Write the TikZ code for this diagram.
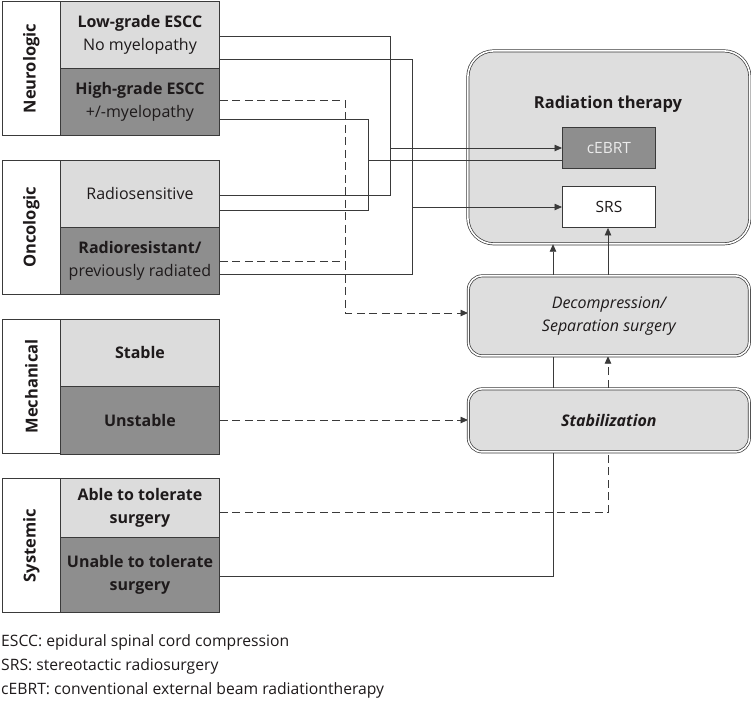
\documentclass[tikz,border=0pt]{standalone}
\usepackage{fontspec}
\setmainfont{Open Sans}
\usetikzlibrary{arrows.meta}
\pgfdeclarelayer{bg}
\pgfdeclarelayer{mid}
\pgfsetlayers{bg,mid,main}
\definecolor{lg}{HTML}{DCDCDC}
\definecolor{dg}{HTML}{8E8E8E}
\definecolor{rg}{HTML}{DEDEDE}
\definecolor{ln}{HTML}{3A3A3A}
\definecolor{tx}{HTML}{1E1A1B}
\begin{document}
\begin{tikzpicture}[x=1pt,y=-1pt,
  box/.style={draw=ln, line width=0.9pt, inner sep=0pt, anchor=north west, text=tx, align=center,
    font=\fontsize{16}{22.5}\selectfont},
  catbox/.style={box, fill=white, minimum width=58pt, minimum height=134pt},
  light/.style={box, fill=lg, minimum width=159pt, minimum height=67pt},
  dark/.style={box, fill=dg, minimum width=159pt, minimum height=67pt},
  cattext/.style={rotate=90, text=tx, font=\fontsize{16.5}{18}\selectfont\bfseries},
  rbox/.style={draw=ln, line width=0.7pt, double=white, double distance=1.6pt, fill=rg,
    anchor=north west, inner sep=0pt, text=tx, align=center, font=\fontsize{16}{23}\selectfont},
  conn/.style={draw=ln, line width=0.8pt},
  dsh/.style={dash pattern=on 8pt off 4.5pt},
  arr/.style={-{Triangle[length=7.5pt,width=6.5pt]}},
  legend/.style={anchor=base west, inner sep=0pt, text=tx, font=\fontsize{15.7}{18}\selectfont}
]
\useasboundingbox (0,0) rectangle (751,712);

% Neurologic
\node[catbox] (neu) at (2,1) {};
\node[cattext] (neuT) at (neu.center) {Neurologic};
\node[light] (low) at (60,1) {\textbf{Low-grade ESCC}\\No myelopathy};
\node[dark] (high) at (60,68) {\textbf{High-grade ESCC}\\+/-myelopathy};
% Oncologic
\node[catbox] (onc) at (2,160) {};
\node[cattext] (oncT) at (onc.center) {Oncologic};
\node[light] (rsens) at (60,160) {Radiosensitive};
\node[dark] (rres) at (60,227) {\textbf{Radioresistant/}\\previously radiated};
% Mechanical
\node[catbox] (mec) at (2,319) {};
\node[cattext] (mecT) at (mec.center) {Mechanical};
\node[light] (stable) at (60,319) {\textbf{Stable}};
\node[dark, minimum height=68pt] (unst) at (60,386) {\textbf{Unstable}};
% Systemic
\node[catbox] (sys) at (2,478) {};
\node[cattext] (sysT) at (sys.center) {Systemic};
\node[light, minimum height=59pt] (able) at (60,478) {\textbf{Able to tolerate}\\\textbf{surgery}};
\node[dark, minimum height=75pt] (unable) at (60,537) {\textbf{Unable to tolerate}\\\textbf{surgery}};

% Right side
\begin{pgfonlayer}{bg}
\node[rbox, rounded corners=26pt, minimum width=282pt, minimum height=193pt] (rad) at (467.5,50.5) {};
\end{pgfonlayer}
\node[text=tx, font=\fontsize{16.5}{18}\selectfont\bfseries] (radT) at (608,104) {Radiation therapy};
\node[box, fill=dg, text=white!92!black, minimum width=93pt, minimum height=41pt, font=\fontsize{15.5}{18}\selectfont] (cebrt) at (562,127) {cEBRT};
\node[box, fill=white, minimum width=93pt, minimum height=41pt, font=\fontsize{15.5}{18}\selectfont] (srs) at (562,186) {SRS};
\node[rbox, rounded corners=14pt, minimum width=281pt, minimum height=80pt] (dec) at (468,275.5) {\itshape Decompression/\\\itshape Separation surgery};
\node[rbox, rounded corners=14pt, minimum width=281pt, minimum height=63pt] (stab) at (468,388.5) {\bfseries\itshape Stabilization};

% Connectors
\begin{pgfonlayer}{mid}
\draw[conn] (low.east |- 0,36) -- (390,36) -- (390,195) -- (rsens.east |- 0,195);
\draw[conn,arr] (390,148) -- (cebrt.west |- 0,148);
\draw[conn] (low.east |- 0,59) -- (412,59) -- (412,274) -- (rres.east |- 0,274);
\draw[conn,arr] (412,207) -- (srs.west |- 0,207);
\draw[conn] (high.east |- 0,119) -- (368,119) -- (368,210) -- (rsens.east |- 0,210);
\draw[conn] (368,160) -- (cebrt.west |- 0,160);
\draw[conn,dsh,arr] (high.east |- 0,100) -- (345,100) -- (345,313) -- (dec.west |- 0,313);
\draw[conn,dsh] (rres.east |- 0,261) -- (345,261);
\draw[conn,dsh,arr] (unst.east |- 0,420) -- (stab.west |- 0,420);
\draw[conn,dsh,arr] (able.east |- 0,512) -- (608,512) -- (dec.south -| 608,0);
\draw[conn,arr] (unable.east |- 0,576) -- (553,576) -- (rad.south -| 553,0);
\draw[conn,arr] (dec.north -| 608,0) -- (srs.south -| 608,0);
\end{pgfonlayer}

% Legend
\node[legend] (l1) at (1,646) {ESCC: epidural spinal cord compression};
\node[legend] (l2) at (1,670) {SRS: stereotactic radiosurgery};
\node[legend] (l3) at (1,694) {cEBRT: conventional external beam radiationtherapy};
\end{tikzpicture}
\end{document}
